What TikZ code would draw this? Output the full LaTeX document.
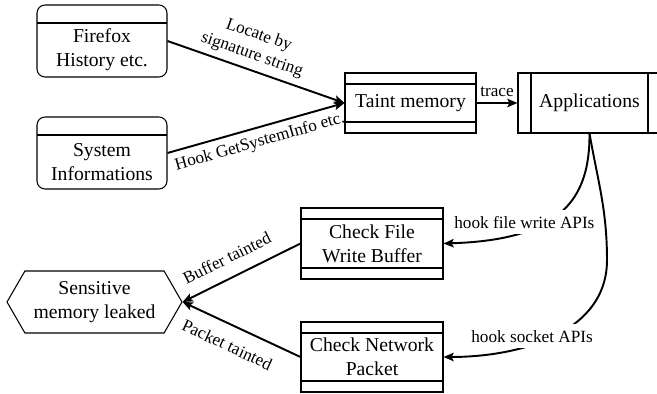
\documentclass[tikz,border=0pt]{standalone}
\usepackage{fontspec}
\setmainfont{Liberation Serif}
\usetikzlibrary{shapes,arrows.meta,positioning}
\newcommand{\topgap}{\rule{0pt}{0.63cm}}

\begin{document}
\begin{tikzpicture}[x=0.02cm, y=-0.02cm, >={Stealth[length=5.8pt,width=4.8pt,inset=1.2pt]}, font=\fontsize{11.2}{13.7}\selectfont,
    store/.style={draw,rounded corners=0.16cm,line width=0.6pt,minimum width=2.6cm,minimum height=1.44cm,align=center,
      path picture={\draw[line width=0.6pt] ([yshift=-0.36cm]path picture bounding box.north west) -- ([yshift=-0.36cm]path picture bounding box.north east);}},
    proc/.style={draw,line width=0.6pt,minimum width=2.84cm,align=center,
      path picture={\draw[line width=0.6pt] ([yshift=-0.22cm]path picture bounding box.north west) -- ([yshift=-0.22cm]path picture bounding box.north east)
        ([yshift=0.22cm]path picture bounding box.south west) -- ([yshift=0.22cm]path picture bounding box.south east);}},
    ext/.style={draw,line width=0.6pt,minimum width=2.86cm,minimum height=1.2cm,
      path picture={\draw[line width=0.6pt] ([xshift=0.26cm]path picture bounding box.north west) -- ([xshift=0.26cm]path picture bounding box.south west)
        ([xshift=-0.26cm]path picture bounding box.north east) -- ([xshift=-0.26cm]path picture bounding box.south east);}},
    sink/.style={draw,line width=0.6pt,signal,signal to=west and east,signal pointer angle=120,minimum width=3.5cm,minimum height=1.24cm,align=center},
    flow/.style={->,line width=1.1pt},
    lbl/.style={font=\fontsize{9.8}{11.8}\selectfont}]
\useasboundingbox (0,0) rectangle (657,394);
\node[store] (fire) at (102,41) {\topgap Firefox\\History etc.};
\node[store] (sys) at (102,153) {\topgap System\\Informations};
\node[proc,minimum width=2.62cm,minimum height=1.2cm] (taint) at (410.5,103) {Taint memory};
\node[ext] (app) at (589.5,103) {Applications};
\node[proc,minimum height=1.42cm] (file) at (372,243.5) {Check File\\Write Buffer};
\node[proc,minimum height=1.4cm] (net) at (372,357) {Check Network\\Packet};
\node[sink] (leak) at (94.5,302) {Sensitive\\memory leaked};
\coordinate (bend) at (607,260);
\draw[flow] (fire.east) -- node[lbl,sloped,above,align=center,pos=0.45] (loc) {Locate by\\signature string} (taint.west);
\draw[flow] (sys.east) -- node[lbl,sloped,below,pos=0.5] (hook) {Hook GetSystemInfo etc.} (taint.west);
\draw[flow] (taint) -- node[lbl,above] (trc) {trace} (app);
\draw[flow] (app.south) .. controls (590,200) and (560,240) .. node[lbl,fill=white,xshift=-0.72cm,yshift=-0.2cm] (fw) {hook file write APIs} (file.east);
\draw[flow] (app.south) to[out=-80,in=90] (bend) to[out=-90,in=0] node[lbl,fill=white,xshift=-0.42cm] (sk) {hook socket APIs} (net.east);
\draw[flow] (file.west) -- node[lbl,sloped,above=4pt,pos=0.55] (buf) {Buffer tainted} (leak.east);
\draw[flow] (net.west) -- node[lbl,sloped,below=4pt,pos=0.55] (pkt) {Packet tainted} (leak.east);
\end{tikzpicture}
\end{document}
